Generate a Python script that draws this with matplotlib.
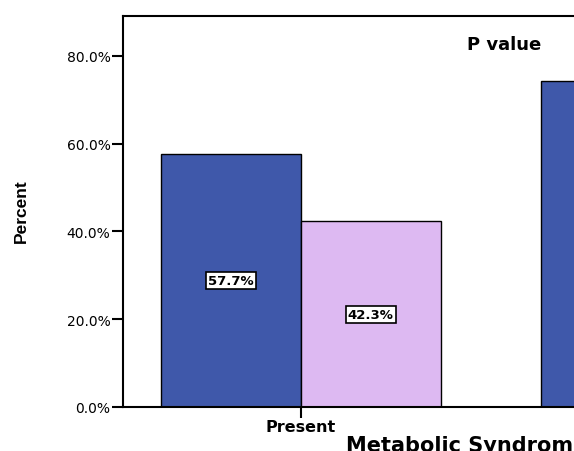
import numpy as np
import matplotlib.pyplot as plt

# data (second group is cut off at the right edge of the picture)
groups = ["Present", "Absent"]
series_a = [57.7, 74.3]
series_b = [42.3, 25.7]
y_ticks = [0, 20, 40, 60, 80]

blue = "#3f58aa"
lilac = "#ddb9f2"

fig = plt.figure(figsize=(5.74, 4.52), dpi=100)
# axes run past the right border, like the cropped original
ax = fig.add_axes([123 / 574, (452 - 408) / 452, 760 / 574, (408 - 17) / 452])

x = np.arange(len(groups))
w = 0.368
bars_a = ax.bar(x - w / 2, series_a, w, color=blue, edgecolor="black", linewidth=1.0)
bars_b = ax.bar(x + w / 2, series_b, w, color=lilac, edgecolor="black", linewidth=1.0)

for bars in (bars_a, bars_b):
    for b in bars:
        h = b.get_height()
        ax.text(b.get_x() + b.get_width() / 2, h / 2, "%.1f%%" % h,
                ha="center", va="center", fontsize=9.5, fontweight="bold",
                family="DejaVu Sans",
                bbox=dict(boxstyle="square,pad=0.15", fc="white", ec="black", lw=1.2))

ax.set_xlim(-0.468, 1.532)
ax.set_ylim(0, 89.1)
ax.set_yticks(y_ticks)
ax.set_yticklabels(["%.1f%%" % v for v in y_ticks], fontsize=10, family="DejaVu Sans")
ax.set_xticks(x)
ax.set_xticklabels(groups, fontsize=11.5, fontweight="bold", family="DejaVu Sans")
ax.tick_params(axis="y", length=8, width=1.5, pad=1)
ax.tick_params(axis="x", length=8, width=1.5, pad=1)
for s in ax.spines.values():
    s.set_linewidth(1.5)

fig.text(21 / 574, 1 - 211 / 452, "Percent", rotation=90, fontsize=12.5,
         fontweight="bold", family=["Liberation Sans", "DejaVu Sans"],
         ha="center", va="center")

ax.text((467 - 123) / 760, (408 - 45) / 391, "P value", transform=ax.transAxes,
        fontsize=13, fontweight="bold", family="DejaVu Sans", va="center")

fig.text(346 / 574, 1 - 446 / 452, "Metabolic Syndrome", fontsize=15,
         fontweight="bold", family="DejaVu Sans", va="center")

plt.savefig("out.png", dpi=100)
plt.close()
